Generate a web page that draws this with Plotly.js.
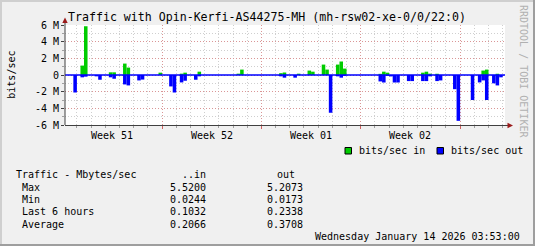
<!DOCTYPE html>
<html><head><meta charset="utf-8">
<script src="https://cdn.plot.ly/plotly-3.0.1.min.js"></script>
<style>html,body{margin:0;padding:0;background:#f0f0f0;}#chart{width:535px;height:246px;}</style>
</head><body><div id="chart"></div>
<script>
// 6-hour bins (bin start times), values in Mbit/s
const inTimes = ['2025-12-15 06:00','2025-12-15 12:00','2025-12-17 06:00','2025-12-17 12:00','2025-12-18 06:00','2025-12-18 12:00',
  '2025-12-20 18:00','2025-12-22 06:00','2025-12-22 12:00','2025-12-23 12:00','2025-12-26 06:00','2025-12-26 12:00',
  '2025-12-29 06:00','2025-12-29 12:00','2025-12-30 12:00','2025-12-31 06:00','2025-12-31 12:00','2026-01-01 06:00',
  '2026-01-01 12:00','2026-01-02 06:00','2026-01-02 12:00','2026-01-02 18:00','2026-01-05 06:00','2026-01-05 12:00',
  '2026-01-05 18:00','2026-01-08 06:00','2026-01-08 12:00','2026-01-08 18:00','2026-01-09 06:00','2026-01-12 12:00',
  '2026-01-12 18:00','2026-01-13 12:00'];
const inMbps = [1.13,5.85,0.32,0.32,1.37,0.89,
  0.28,0.16,0.28,0.40,0.16,0.65,
  0.22,0.30,0.16,0.53,0.40,1.25,
  0.65,1.25,1.62,0.77,0.14,0.40,
  0.28,0.28,0.40,0.16,0.15,0.53,
  0.65,0.15];
const outTimes = ['2025-12-14 18:00','2025-12-15 06:00','2025-12-15 12:00','2025-12-16 06:00','2025-12-16 12:00','2025-12-17 06:00',
  '2025-12-17 12:00','2025-12-18 06:00','2025-12-18 12:00','2025-12-19 06:00','2025-12-19 12:00','2025-12-21 12:00',
  '2025-12-21 18:00','2025-12-22 06:00','2025-12-22 12:00','2025-12-23 06:00','2025-12-23 12:00','2025-12-29 06:00',
  '2025-12-29 12:00','2025-12-30 06:00','2026-01-01 18:00','2026-01-02 06:00','2026-01-02 12:00','2026-01-02 18:00',
  '2026-01-05 06:00','2026-01-05 12:00','2026-01-05 18:00','2026-01-06 00:00','2026-01-06 06:00','2026-01-06 12:00',
  '2026-01-07 06:00','2026-01-07 12:00','2026-01-08 06:00','2026-01-08 12:00','2026-01-08 18:00','2026-01-09 06:00',
  '2026-01-09 12:00','2026-01-10 12:00','2026-01-10 18:00','2026-01-11 18:00','2026-01-12 06:00','2026-01-12 12:00',
  '2026-01-12 18:00','2026-01-13 06:00','2026-01-13 12:00','2026-01-13 18:00'];
const outMbps = [2.1,0.28,0.2,0.16,0.57,0.28,
  0.45,1.13,1.25,0.65,0.55,1.37,
  2.1,0.89,0.69,0.57,0.16,0.16,
  0.32,0.32,4.53,0.16,0.32,0.10,
  0.77,0.90,0.10,0.17,0.90,0.90,
  0.73,0.73,0.73,0.73,0.16,0.73,
  0.65,1.7,5.5,3.0,0.89,0.65,
  3.0,1.0,1.25,0.28];
const yTickVals = [-6,-4,-2,0,2,4,6];
const yTickText = ['-6 M','-4 M','-2 M','0','2 M','4 M','6 M'];
const weekStarts = ['2025-12-21','2025-12-28','2026-01-04','2026-01-11'];
const weekLabels = ['Week 51','Week 52','Week 01','Week 02'];
const weekLabelDates = ['2025-12-17 12:00','2025-12-24 12:00','2025-12-31 12:00','2026-01-07 12:00'];
const seriesNames = ['bits/sec in','bits/sec out'];
const seriesColors = ['#00cc00','#0000ff'];
const statLabels = ['Max','Min','Last 6 hours','Average'];
const statIn = ['5.5200','0.0244','0.1032','0.2066'];
const statOut = ['5.2073','0.0173','0.2338','0.3708'];

const W=535,H=246,L=65,R=505,T=25,B=125;
const px = x => (x-L)/(R-L);
const py = y => (B-y)/(B-T);
const BIN = 6*3600*1000;
const MONO = 'DejaVu Sans Mono';
const f10 = {family:MONO,size:10,color:'#000'};

const traces = [
  {type:'bar', name:seriesNames[0], x:inTimes, y:inMbps, width:inTimes.map(()=>BIN), offset:0,
   marker:{color:seriesColors[0], line:{width:0}}, hoverinfo:'skip'},
  {type:'bar', name:seriesNames[1], x:outTimes, y:outMbps.map(v=>-v), width:outTimes.map(()=>BIN), offset:0,
   marker:{color:seriesColors[1], line:{width:0}}, hoverinfo:'skip'}
];

const ann = [];
ann.push({xref:'paper',yref:'paper',x:px(10.7),y:py(75),text:'bits/sec',textangle:-90,showarrow:false,xanchor:'center',yanchor:'middle',font:f10,borderpad:0});
ann.push({xref:'paper',yref:'paper',x:px(524),y:py(71),text:'RRDTOOL / TOBI OETIKER',textangle:90,showarrow:false,xanchor:'center',yanchor:'middle',font:{family:MONO,size:10,color:'#b0b0b0'},borderpad:0});
weekLabels.forEach((t,i)=>ann.push({xref:'x',yref:'paper',x:weekLabelDates[i],y:py(135),text:t,showarrow:false,xanchor:'center',yanchor:'middle',font:f10,borderpad:0}));
ann.push({xref:'paper',yref:'paper',x:px(357.7),y:py(150.7),text:seriesNames[0],showarrow:false,xanchor:'left',yanchor:'middle',font:f10,borderpad:0});
ann.push({xref:'paper',yref:'paper',x:px(449.8),y:py(150.7),text:seriesNames[1],showarrow:false,xanchor:'left',yanchor:'middle',font:f10,borderpad:0});
ann.push({xref:'paper',yref:'paper',x:px(15.4),y:py(174.6),text:'Traffic - Mbytes/sec',showarrow:false,xanchor:'left',yanchor:'middle',font:f10,borderpad:0});
ann.push({xref:'paper',yref:'paper',x:px(206.5),y:py(174.6),text:'..in',showarrow:false,xanchor:'right',yanchor:'middle',font:f10,borderpad:0});
ann.push({xref:'paper',yref:'paper',x:px(295.6),y:py(174.6),text:'out',showarrow:false,xanchor:'right',yanchor:'middle',font:f10,borderpad:0});
statLabels.forEach((t,i)=>{
  const yy = py(187.2+12.27*i);
  ann.push({xref:'paper',yref:'paper',x:px(21.2),y:yy,text:t,showarrow:false,xanchor:'left',yanchor:'middle',font:f10,borderpad:0});
  ann.push({xref:'paper',yref:'paper',x:px(206.5),y:yy,text:statIn[i],showarrow:false,xanchor:'right',yanchor:'middle',font:f10,borderpad:0});
  ann.push({xref:'paper',yref:'paper',x:px(303.8),y:yy,text:statOut[i],showarrow:false,xanchor:'right',yanchor:'middle',font:f10,borderpad:0});
});
ann.push({xref:'paper',yref:'paper',x:px(521),y:py(236.4),text:'Wednesday January 14 2026 03:53:00',showarrow:false,xanchor:'right',yanchor:'middle',font:f10,borderpad:0});

const shapes = [
  // frame shading
  {type:'rect',xref:'paper',yref:'paper',x0:px(0),x1:px(W),y0:py(0),y1:py(2),fillcolor:'#cfcfcf',line:{width:0},layer:'below'},
  {type:'rect',xref:'paper',yref:'paper',x0:px(0),x1:px(2),y0:py(0),y1:py(H),fillcolor:'#cfcfcf',line:{width:0},layer:'below'},
  {type:'rect',xref:'paper',yref:'paper',x0:px(0),x1:px(W),y0:py(H-2),y1:py(H),fillcolor:'#9e9e9e',line:{width:0},layer:'below'},
  {type:'rect',xref:'paper',yref:'paper',x0:px(W-2),x1:px(W),y0:py(0),y1:py(H),fillcolor:'#9e9e9e',line:{width:0},layer:'below'},
  // zero line
  {type:'line',xref:'paper',yref:'y',x0:0,x1:1,y0:0,y1:0,line:{color:'#0000ff',width:1.3},layer:'above'},
  // axis extensions and arrows
  {type:'line',xref:'paper',yref:'paper',x0:px(65),x1:px(65),y0:py(125),y1:py(21),line:{color:'#404040',width:1},layer:'above'},
  {type:'line',xref:'paper',yref:'paper',x0:px(65),x1:px(509),y0:py(125.5),y1:py(125.5),line:{color:'#404040',width:1},layer:'above'},
  {type:'path',xref:'paper',yref:'paper',path:`M${px(62.3)},${py(23)} L${px(67.7)},${py(23)} L${px(65)},${py(17.5)} Z`,fillcolor:'#9b1b1b',line:{width:0},layer:'above'},
  {type:'path',xref:'paper',yref:'paper',path:`M${px(507.5)},${py(122.8)} L${px(507.5)},${py(128.2)} L${px(513)},${py(125.5)} Z`,fillcolor:'#9b1b1b',line:{width:0},layer:'above'},
  // legend swatches
  {type:'rect',xref:'paper',yref:'paper',x0:px(345),x1:px(351.5),y0:py(154),y1:py(147.5),fillcolor:seriesColors[0],line:{color:'#000',width:1},layer:'above'},
  {type:'rect',xref:'paper',yref:'paper',x0:px(437),x1:px(443.5),y0:py(154),y1:py(147.5),fillcolor:seriesColors[1],line:{color:'#000',width:1},layer:'above'}
];

const layout = {
  width:W, height:H,
  margin:{l:L, r:W-R, t:T, b:H-B, pad:0},
  paper_bgcolor:'#f0f0f0', plot_bgcolor:'#ffffff',
  showlegend:false, barmode:'overlay',
  title:{text:'Traffic with Opin-Kerfi-AS44275-MH (mh-rsw02-xe-0/0/22:0)', font:{family:MONO,size:11.6,color:'#000'},
         x:68/W, xanchor:'left', xref:'container', y:1-16.7/H, yanchor:'middle', yref:'container'},
  xaxis:{type:'date', range:['2025-12-14 03:53','2026-01-14 03:53'], tickmode:'array', tickvals:weekStarts,
         ticktext:weekStarts.map(()=>''), showgrid:true, gridcolor:'rgba(230,80,80,0.45)', griddash:'1px,2px', gridwidth:1,
         ticks:'outside', ticklen:3, tickcolor:'#d06060', zeroline:false, showline:false, fixedrange:true,
         minor:{tickmode:'linear', tick0:'2025-12-14', dtick:86400000, showgrid:true, gridcolor:'#cfcfcf', griddash:'1px,2px', gridwidth:1,
                ticks:'outside', ticklen:2, tickcolor:'#a0a0a0'}},
  yaxis:{range:[-6,6], tickmode:'array', tickvals:yTickVals, ticktext:yTickText, showgrid:true,
         gridcolor:'rgba(230,80,80,0.45)', griddash:'1px,2px', gridwidth:1, zeroline:false, showline:false,
         ticks:'outside', ticklen:3, tickcolor:'#404040', tickfont:f10, fixedrange:true,
         minor:{tickmode:'linear', tick0:0, dtick:1, showgrid:true, gridcolor:'#cfcfcf', griddash:'1px,2px', gridwidth:1,
                ticks:'outside', ticklen:2, tickcolor:'#a0a0a0'}},
  annotations:ann, shapes:shapes
};
Plotly.newPlot('chart', traces, layout, {staticPlot:true, displayModeBar:false});
</script></body></html>
